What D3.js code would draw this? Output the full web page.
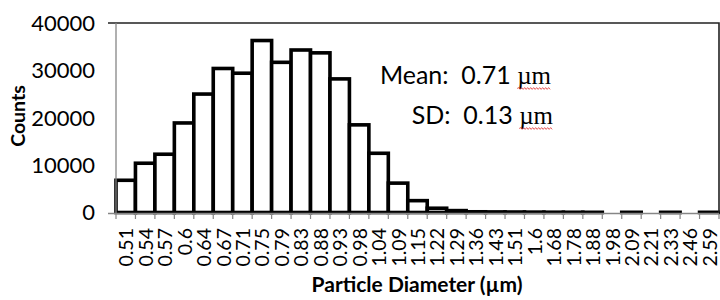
<!DOCTYPE html>
<html>
<head>
<meta charset="utf-8">
<script src="https://cdn.jsdelivr.net/npm/d3@7"></script>
<style>
  html, body { margin: 0; padding: 0; background: #fff; }
  svg { display: block; }
  text { font-family: Lato, "Open Sans", sans-serif; fill: #000; }
</style>
</head>
<body>
<svg id="chart" width="720" height="300"></svg>
<script>
const categories = ["0.51","0.54","0.57","0.6","0.64","0.67","0.71","0.75","0.79","0.83","0.88","0.93","0.98","1.04","1.09","1.15","1.22","1.29","1.36","1.43","1.51","1.6","1.68","1.78","1.88","1.98","2.09","2.21","2.33","2.46","2.59"];
const counts = [6800,10400,12300,18900,25000,30400,29400,36300,31700,34300,33700,28200,18500,12500,6200,2500,900,400,150,120,100,80,60,50,40,null,40,null,40,null,40];
const yTicks = [0,10000,20000,30000,40000];
const meanText = "Mean:  0.71 ";
const sdText = "SD:  0.13 ";
const unitText = "µm";
const xTitle = "Particle Diameter (µm)";
const yTitle = "Counts";

const svg = d3.select("#chart");
const pLeft = 116, pRight = 719, pTop = 23, pBottom = 212.5;

const x = d3.scaleBand().domain(categories).range([pLeft, pRight]).padding(0);
const y = d3.scaleLinear().domain([0, 40000]).range([pBottom, pTop]);

// bars
const data = categories.map((c, i) => ({c, v: counts[i]})).filter(d => d.v !== null);
svg.append("g").selectAll("rect").data(data).join("rect")
  .attr("x", d => x(d.c))
  .attr("y", d => y(d.v))
  .attr("width", x.bandwidth())
  .attr("height", d => y(0) - y(d.v))
  .attr("fill", "#fff")
  .attr("stroke", "#000")
  .attr("stroke-width", 3.6)
  .attr("stroke-linejoin", "miter");

// plot border top/right
svg.append("path")
  .attr("d", `M${pLeft - 8},${pTop}H${pRight}V${pBottom}`)
  .attr("fill", "none").attr("stroke", "#222").attr("stroke-width", 1.6);

// y axis line
svg.append("line")
  .attr("x1", pLeft).attr("x2", pLeft).attr("y1", pTop).attr("y2", pBottom + 1)
  .attr("stroke", "#868686").attr("stroke-width", 1.3);

// x axis line
const axisY = y(0) + 1;
svg.append("line")
  .attr("x1", pLeft - 8).attr("x2", pRight).attr("y1", axisY).attr("y2", axisY)
  .attr("stroke", "#868686").attr("stroke-width", 1.3);

// x ticks at category boundaries
const bounds = categories.map(c => x(c)).concat([pRight]);
svg.append("g").selectAll("line").data(bounds).join("line")
  .attr("x1", d => d).attr("x2", d => d)
  .attr("y1", axisY).attr("y2", axisY + 5.5)
  .attr("stroke", "#868686").attr("stroke-width", 1.2);

// y tick labels
svg.append("g").selectAll("text").data(yTicks).join("text")
  .attr("x", 95).attr("y", d => y(d))
  .attr("dy", "0.36em")
  .attr("text-anchor", "end")
  .style("font-size", "22px")
  .text(d => d);

// x tick labels (rotated)
svg.append("g").selectAll("text").data(categories).join("text")
  .attr("transform", d => `translate(${x(d) + x.bandwidth() / 2 + 0.5},228) rotate(-90)`)
  .attr("dy", "0.36em")
  .attr("text-anchor", "end")
  .style("font-size", "19.5px")
  .text(d => d);

// axis titles
svg.append("text")
  .attr("transform", "translate(18,116) rotate(-90)")
  .attr("dy", "0.36em")
  .attr("text-anchor", "middle")
  .style("font-size", "19.5px").style("font-weight", "bold")
  .text(yTitle);

svg.append("text")
  .attr("x", 417).attr("y", 292)
  .attr("text-anchor", "middle")
  .style("font-size", "21px").style("font-weight", "bold")
  .text(xTitle);

// annotations
function annot(label, yBase, xEnd) {
  const t = svg.append("text")
    .attr("x", xEnd).attr("y", yBase)
    .attr("text-anchor", "end")
    .style("font-size", "25px")
    .style("white-space", "pre")
    .attr("xml:space", "preserve");
  t.append("tspan").text(label);
  const u = t.append("tspan").text(unitText)
    .style("font-family", "'Liberation Serif', 'DejaVu Serif', serif")
    .style("font-size", "25px");
  const bb = u.node().getBBox();
  // red wavy spell-check underline
  const x0 = bb.x, x1 = bb.x + bb.width, yy = yBase + 5;
  let d = `M${x0},${yy}`;
  let up = true;
  for (let xx = x0 + 1.5; xx <= x1; xx += 1.5) {
    d += `L${xx},${yy + (up ? -0.9 : 0.9)}`;
    up = !up;
  }
  svg.append("path").attr("d", d).attr("fill", "none")
    .attr("stroke", "#e03030").attr("stroke-width", 0.8);
}
annot(meanText, 83.5, 551);
annot(sdText, 123.5, 553);
</script>
</body>
</html>
